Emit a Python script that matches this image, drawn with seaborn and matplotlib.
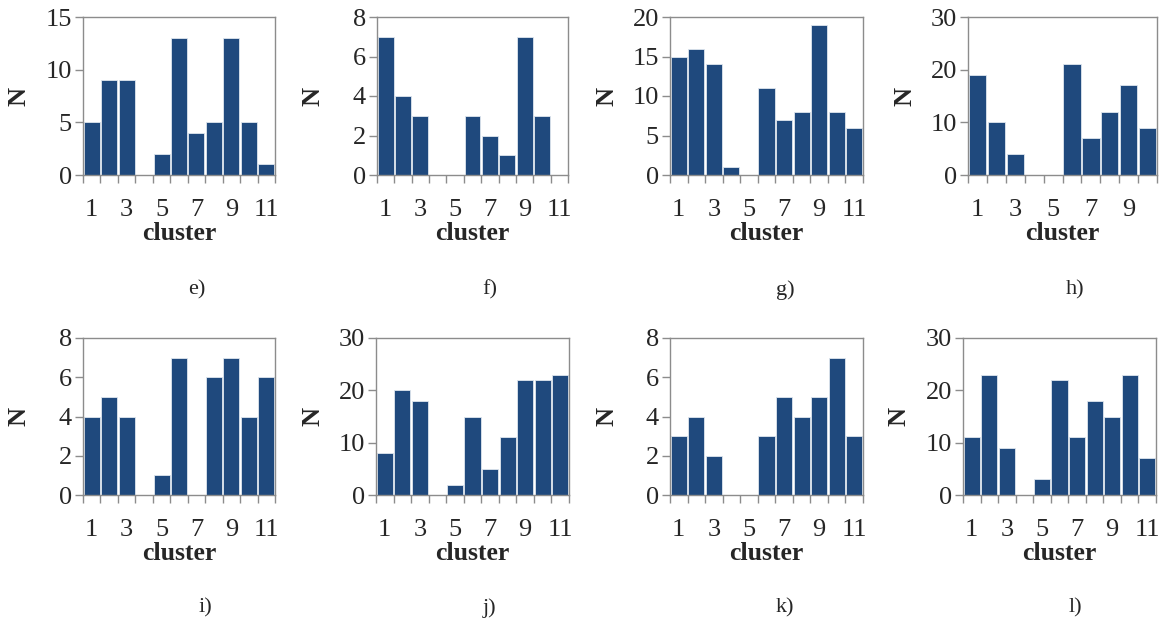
import matplotlib
matplotlib.use("Agg")
import matplotlib.pyplot as plt
import seaborn as sns
import pandas as pd

sns.set_style("white")
plt.rcParams['font.family'] = ['Liberation Serif', 'DejaVu Serif']

# counts per cluster for each panel
e_vals = [5, 9, 9, 0, 2, 13, 4, 5, 13, 5, 1]
f_vals = [7, 4, 3, 0, 0, 3, 2, 1, 7, 3, 0]
g_vals = [15, 16, 14, 1, 0, 11, 7, 8, 19, 8, 6]
h_vals = [19, 10, 4, 0, 0, 21, 7, 12, 17, 9]
i_vals = [4, 5, 4, 0, 1, 7, 0, 6, 7, 4, 6]
j_vals = [8, 20, 18, 0, 2, 15, 5, 11, 22, 22, 23]
k_vals = [3, 4, 2, 0, 0, 3, 5, 4, 5, 7, 3]
l_vals = [11, 23, 9, 0, 3, 22, 11, 18, 15, 23, 7]

captions = ["e)", "f)", "g)", "h)", "i)", "j)", "k)", "l)"]
ymax = [15, 8, 20, 30, 8, 30, 8, 30]
ystep = [5, 2, 5, 10, 2, 10, 2, 10]
all_vals = [e_vals, f_vals, g_vals, h_vals, i_vals, j_vals, k_vals, l_vals]

W, H = 1166, 628
# axes boxes in pixels: left, right, top, bottom
boxes = [(83, 275, 17, 175), (377, 568, 17, 175), (670, 863, 17, 175), (968, 1157, 17, 175),
         (83, 275, 338, 495), (376, 569, 338, 495), (670, 863, 338, 495), (963, 1156, 338, 495)]
cap_pos = [(197, 290), (490, 290), (785, 290), (1075, 290),
           (205, 608), (490, 608), (785, 608), (1075, 608)]

bar_color = "#1f497d"
grey = "#8c8c8c"

fig = plt.figure(figsize=(W / 100, H / 100), dpi=100)

for n in range(8):
    vals = all_vals[n]
    l, r, t, b = boxes[n]
    w_px, h_px = r - l, b - t
    ax = fig.add_axes([l / W, 1 - b / H, w_px / W, h_px / H])
    df = pd.DataFrame({"cluster": [str(c + 1) for c in range(len(vals))], "N": vals})
    sns.barplot(data=df, x="cluster", y="N", color=bar_color, saturation=1,
                width=0.92, edgecolor="#dfe6ef", linewidth=0.6, ax=ax)
    k = len(vals)
    ax.set_xlim(-0.5, k - 0.5)
    ax.set_ylim(0, ymax[n])
    ax.set_yticks(range(0, ymax[n] + 1, ystep[n]))
    ax.set_xticks(range(0, k, 2))
    ax.set_xticklabels([str(c + 1) for c in range(0, k, 2)])
    ax.set_xticks([c - 0.5 for c in range(k + 1)], minor=True)
    ax.tick_params(axis="x", which="major", length=0, pad=17, labelsize=19)
    ax.tick_params(axis="x", which="minor", length=6, color=grey, width=1, direction="out")
    ax.tick_params(axis="y", length=6, color=grey, width=1, direction="out", labelsize=19, pad=2)
    ax.tick_params(bottom=True, left=True, which="both")
    for s in ax.spines.values():
        s.set_color(grey)
        s.set_linewidth(1)
    ax.set_xlabel("cluster", fontsize=18.5, fontweight="bold")
    ax.xaxis.set_label_coords(0.5, -47 / h_px)
    ax.set_ylabel("N", fontsize=19, fontweight="bold")
    ax.yaxis.set_label_coords(-52 / w_px, 0.5)
    fig.text(cap_pos[n][0] / W, 1 - cap_pos[n][1] / H, captions[n], fontsize=16,
             ha="center", va="center")

fig.savefig("out.png", dpi=100)
